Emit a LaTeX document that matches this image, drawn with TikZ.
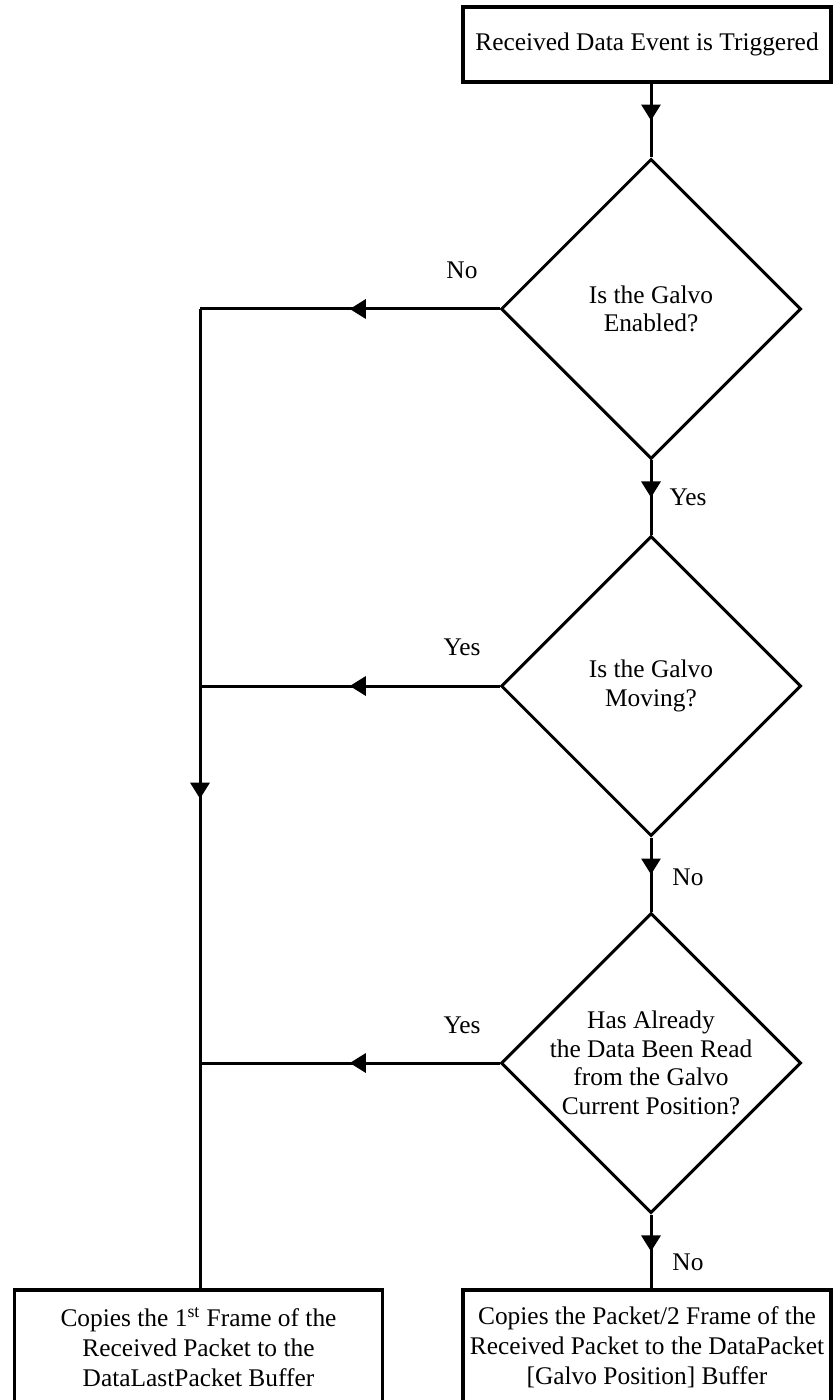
\documentclass[tikz,border=0pt]{standalone}
\usepackage{fontspec}
\setmainfont{Liberation Serif}
\usetikzlibrary{shapes.geometric,arrows.meta,decorations.markings}
\tikzset{
  flow/.style={line width=1.5pt,postaction={decorate},
    decoration={markings,mark=at position .5 with
      {\arrow{Triangle[length=8pt,width=9.5pt]}}}},
  stepbox/.style={draw,line width=1.6pt,rectangle,minimum width=184pt,
    align=center,inner sep=0pt,font=\fontsize{12.7}{15}\selectfont},
  test/.style={draw,line width=1.5pt,diamond,aspect=1,minimum width=150pt,
    minimum height=150pt,inner sep=-10pt,align=center,
    font=\fontsize{12.7}{14.3}\selectfont},
  lbl/.style={font=\fontsize{12.7}{14}\selectfont}
}
\begin{document}
\begin{tikzpicture}[x=0.5pt,y=-0.5pt]
  \useasboundingbox (0,0) rectangle (832,1400);
  \node[stepbox,minimum height=37.5pt] (start) at (647,44.5)
    {Received Data Event is Triggered};
  \node[test] (enabled) at (651,309) {Is the Galvo\\Enabled?};
  \node[test] (moving) at (651,686) {Is the Galvo\\Moving?};
  \node[test] (read) at (651,1063)
    {Has Already\\the Data Been Read\\from the Galvo\\Current Position?};
  \node[stepbox,minimum height=57pt] (copyfirst) at (198.5,1347)
    {Copies the 1\textsuperscript{st} Frame of the\\Received Packet to the\\
     DataLastPacket Buffer};
  \node[stepbox,minimum height=57pt] (copyhalf) at (647,1347)
    {Copies the Packet/2 Frame of the\\Received Packet to the DataPacket\\
     {[Galvo Position]} Buffer};
  \coordinate (j1) at (200,309);
  \coordinate (j2) at (200,686);
  \coordinate (j3) at (200,1063);
  \draw[flow] (start.south -| enabled) -- (enabled.north);
  \draw[flow] (enabled.south) -- (moving.north);
  \draw[flow] (moving.south) -- (read.north);
  \draw[flow] (read.south) -- (copyhalf.north -| read);
  \draw[flow] (enabled.west) -- (j1);
  \draw[flow] (moving.west) -- (j2);
  \draw[flow] (read.west) -- (j3);
  \draw[flow] (j1) -- (copyfirst.north -| j1);
  \node[lbl] (no1) at (462,270) {No};
  \node[lbl] (yes1) at (688,497) {Yes};
  \node[lbl] (yes2) at (462,647) {Yes};
  \node[lbl] (no2) at (688,877) {No};
  \node[lbl] (yes3) at (462,1025) {Yes};
  \node[lbl] (no3) at (688,1262) {No};
\end{tikzpicture}
\end{document}
